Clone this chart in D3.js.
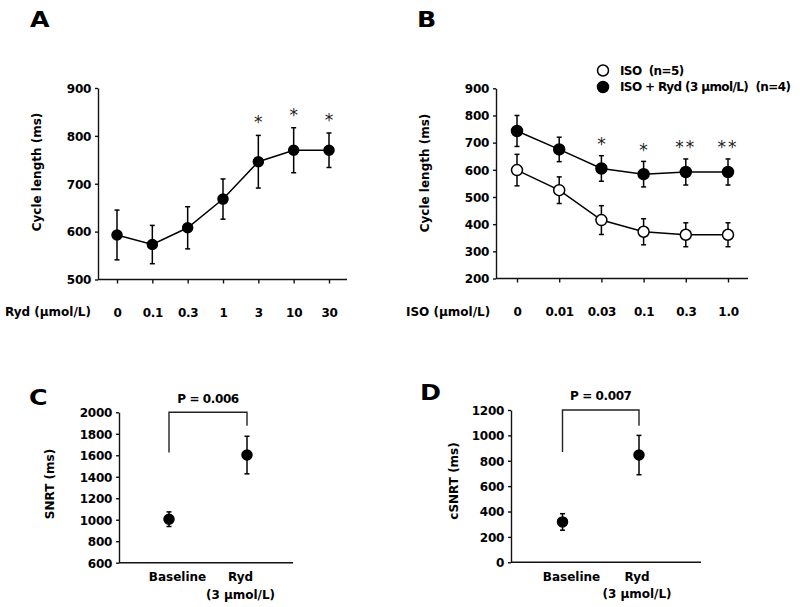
<!DOCTYPE html>
<html>
<head>
<meta charset="utf-8">
<script src="https://cdn.jsdelivr.net/npm/d3@7"></script>
<style>
  html, body { margin: 0; padding: 0; background: #fff; }
  svg { display: block; font-family: "DejaVu Sans", Verdana, sans-serif; }
  text { white-space: pre; }
</style>
</head>
<body>
<svg id="chart" width="800" height="607"></svg>
<script>
// ---------- Data ----------
// Panel A: Ryd dose response
const rydCats = ["0", "0.1", "0.3", "1", "3", "10", "30"];
const rydMean = [593, 573, 608, 668, 746, 770, 770];
const rydErr  = [52, 40, 44, 42, 55, 47, 36];
const rydSig  = ["", "", "", "", "*", "*", "*"];
const rydTicks = [500, 600, 700, 800, 900];

// Panel B: ISO dose response
const isoCats = ["0", "0.01", "0.03", "0.1", "0.3", "1.0"];
const isoMean = [599, 525, 415, 372, 361, 361];
const isoErr  = [58, 49, 53, 48, 44, 44];
const isoRydMean = [743, 675, 605, 584, 592, 592];
const isoRydErr  = [57, 45, 47, 47, 48, 48];
const isoSig  = ["", "", "*", "*", "**", "**"];
const isoTicks = [200, 300, 400, 500, 600, 700, 800, 900];
const legendLabels = ["ISO  (n=5)", "ISO + Ryd (3 \u00b5mol/L)  (n=4)"];

// Panel C: SNRT
const groups = ["Baseline", "Ryd"];
const groupSub = ["", "(3 \u00b5mol/L)"];
const snrtMean = [1005, 1602];
const snrtErr  = [68, 175];
const snrtTicks = [600, 800, 1000, 1200, 1400, 1600, 1800, 2000];
const snrtBracket = [1625, 1875, 2000];   // left leg end, right leg end, top
const snrtP = "P = 0.006";

// Panel D: cSNRT
const csnrtMean = [318, 845];
const csnrtErr  = [65, 155];
const csnrtTicks = [0, 200, 400, 600, 800, 1000, 1200];
const csnrtBracket = [870, 1076, 1200];
const csnrtP = "P = 0.007";

// ---------- Drawing ----------
const svg = d3.select("#chart");
const INK = "#000";
const FONT = "'DejaVu Sans', Verdana, sans-serif";

function panelLetter(txt, x, y) {
  svg.append("text").attr("x", x).attr("y", y)
    .attr("font-size", 22).attr("font-weight", "bold")
    .attr("transform", `translate(${x},${y}) scale(1.15,1) translate(${-x},${-y})`)
    .text(txt);
}

function yLabel(txt, x, y) {
  svg.append("text")
    .attr("transform", `translate(${x},${y}) rotate(-90)`)
    .attr("text-anchor", "middle").attr("dy", "0.36em")
    .attr("font-size", 12).attr("font-weight", "bold")
    .text(txt);
}

function styleAxis(g) {
  g.attr("font-family", FONT).attr("font-size", 12);
  g.selectAll(".tick text").attr("font-weight", "bold").attr("fill", INK)
    .attr("letter-spacing", "-0.3px");
  g.selectAll(".tick line, .domain").attr("stroke", "#111").attr("stroke-width", 1.4);
}

function yAxis(y, x0, ticks) {
  const g = svg.append("g").attr("transform", `translate(${x0},0)`)
    .call(d3.axisLeft(y).tickValues(ticks).tickFormat(d3.format("d"))
      .tickSize(3).tickPadding(4).tickSizeOuter(0));
  styleAxis(g);
  g.selectAll(".tick text").attr("dy", "0.36em");
  return g;
}

function xAxisLine(x0, x1, yPos) {
  svg.append("line").attr("x1", x0).attr("x2", x1).attr("y1", yPos).attr("y2", yPos)
    .attr("stroke", "#111").attr("stroke-width", 1.4);
}

function errorBars(x, y, cats, mean, err, cap) {
  const g = svg.append("g").attr("stroke", INK).attr("stroke-width", 1.5);
  cats.forEach((c, i) => {
    const cx = x(c), t = y(mean[i] + err[i]), b = y(mean[i] - err[i]);
    g.append("line").attr("x1", cx).attr("x2", cx).attr("y1", t).attr("y2", b);
    g.append("line").attr("x1", cx - cap).attr("x2", cx + cap).attr("y1", t).attr("y2", t);
    g.append("line").attr("x1", cx - cap).attr("x2", cx + cap).attr("y1", b).attr("y2", b);
  });
}

function seriesLine(x, y, cats, mean) {
  const line = d3.line().x((d, i) => x(cats[i])).y(d => y(d));
  svg.append("path").datum(mean).attr("d", line)
    .attr("fill", "none").attr("stroke", INK).attr("stroke-width", 1.5);
}

function dots(x, y, cats, mean, filled, r) {
  svg.append("g").selectAll("circle").data(mean).join("circle")
    .attr("cx", (d, i) => x(cats[i])).attr("cy", d => y(d)).attr("r", r)
    .attr("fill", filled ? INK : "#fff").attr("stroke", INK).attr("stroke-width", 1.5);
}

function stars(x, y, cats, mean, err, sig, gap) {
  svg.append("g").selectAll("text").data(sig).join("text")
    .attr("x", (d, i) => x(cats[i]))
    .attr("y", (d, i) => y(mean[i] + err[i]) - gap + 9.5)
    .attr("text-anchor", "middle").attr("font-size", 17).attr("fill", "#222")
    .attr("letter-spacing", d => d.length > 1 ? "2px" : "0px")
    .text(d => d);
}

// ===== Panel A =====
{
  const x = d3.scalePoint().domain(rydCats).range([117, 329]);
  const y = d3.scaleLinear().domain([500, 900]).range([279.5, 88]);
  panelLetter("A", 30, 27);
  yAxis(y, 98, rydTicks);
  xAxisLine(98, 347, 279.5);
  const gx = svg.append("g").attr("transform", "translate(0,279.5)")
    .call(d3.axisBottom(x).tickSize(4).tickPadding(25));
  styleAxis(gx);
  gx.select(".domain").remove();
  yLabel("Cycle length (ms)", 37, 172);
  svg.append("text").attr("x", 5).attr("y", 316).attr("font-size", 12)
    .attr("font-weight", "bold").text("Ryd (\u00b5mol/L)");
  errorBars(x, y, rydCats, rydMean, rydErr, 2.5);
  seriesLine(x, y, rydCats, rydMean);
  dots(x, y, rydCats, rydMean, true, 5);
  stars(x, y, rydCats, rydMean, rydErr, rydSig, 16.5);
}

// ===== Panel B =====
{
  const x = d3.scalePoint().domain(isoCats).range([517, 728]);
  const y = d3.scaleLinear().domain([200, 900]).range([278.5, 88.3]);
  panelLetter("B", 417, 27);
  yAxis(y, 496, isoTicks);
  xAxisLine(496, 748, 278.5);
  const gx = svg.append("g").attr("transform", "translate(0,278.5)")
    .call(d3.axisBottom(x).tickSize(4).tickPadding(25));
  styleAxis(gx);
  gx.select(".domain").remove();
  yLabel("Cycle length (ms)", 425, 173);
  svg.append("text").attr("x", 406).attr("y", 316).attr("font-size", 12)
    .attr("font-weight", "bold").text("ISO (\u00b5mol/L)");
  errorBars(x, y, isoCats, isoMean, isoErr, 2.5);
  errorBars(x, y, isoCats, isoRydMean, isoRydErr, 2.5);
  seriesLine(x, y, isoCats, isoMean);
  seriesLine(x, y, isoCats, isoRydMean);
  dots(x, y, isoCats, isoMean, false, 5.5);
  dots(x, y, isoCats, isoRydMean, true, 5.5);
  stars(x, y, isoCats, isoRydMean, isoRydErr, isoSig, 15);

  // legend
  const lg = svg.append("g");
  legendLabels.forEach((lab, i) => {
    const ly = 70.5 + i * 16.5;
    lg.append("circle").attr("cx", 603).attr("cy", ly).attr("r", 5.5)
      .attr("fill", i === 0 ? "#fff" : INK).attr("stroke", INK).attr("stroke-width", 1.5);
    lg.append("text").attr("x", 620).attr("y", ly).attr("dy", "0.36em")
      .attr("font-size", 12).attr("font-weight", "bold").attr("letter-spacing", "-0.6px")
      .text(lab);
  });
}

// ===== Panels C and D =====
function smallPanel(opts) {
  const x = d3.scalePoint().domain(groups).range(opts.xr);
  const y = d3.scaleLinear().domain(opts.dom).range(opts.yr);
  panelLetter(opts.letter, opts.lx, opts.ly);
  yAxis(y, opts.ax, opts.ticks);
  xAxisLine(opts.ax, opts.axEnd, opts.yr[0]);
  yLabel(opts.ylab, opts.ylx, opts.yly);
  // category labels
  groups.forEach((gname, i) => {
    const cx = x(gname) + opts.labOff[i];
    svg.append("text").attr("x", cx).attr("y", opts.yr[0] + 18.5)
      .attr("text-anchor", "middle").attr("font-size", 12).attr("font-weight", "bold").text(gname);
    if (groupSub[i]) {
      svg.append("text").attr("x", cx).attr("y", opts.yr[0] + 36)
        .attr("text-anchor", "middle").attr("font-size", 12).attr("font-weight", "bold").text(groupSub[i]);
    }
  });
  // bracket
  const b = opts.bracket;
  const x0 = x(groups[0]), x1 = x(groups[1]);
  svg.append("path")
    .attr("d", `M${x0},${y(b[0])}V${y(b[2])}H${x1}V${y(b[1])}`)
    .attr("fill", "none").attr("stroke", "#222").attr("stroke-width", 1.4);
  svg.append("text").attr("x", (x0 + x1) / 2).attr("y", y(b[2]) - 14).attr("dy", "0.36em")
    .attr("text-anchor", "middle").attr("font-size", 12).attr("font-weight", "bold")
    .attr("letter-spacing", "-0.4px").text(opts.p);
  errorBars(x, y, groups, opts.mean, opts.err, 2.5);
  dots(x, y, groups, opts.mean, true, 5);
}

smallPanel({
  letter: "C", lx: 29, ly: 405,
  xr: [169, 247], dom: [600, 2000], yr: [562.7, 412.3],
  ax: 119, axEnd: 293, ticks: snrtTicks,
  ylab: "SNRT (ms)", ylx: 50, yly: 484,
  labOff: [8.5, -6.5], bracket: snrtBracket, p: snrtP,
  mean: snrtMean, err: snrtErr
});

smallPanel({
  letter: "D", lx: 420, ly: 400,
  xr: [562.5, 639], dom: [0, 1200], yr: [562.3, 410],
  ax: 511, axEnd: 701, ticks: csnrtTicks,
  ylab: "cSNRT (ms)", ylx: 454, yly: 481,
  labOff: [9, -2], bracket: csnrtBracket, p: csnrtP,
  mean: csnrtMean, err: csnrtErr
});
</script>
</body>
</html>
